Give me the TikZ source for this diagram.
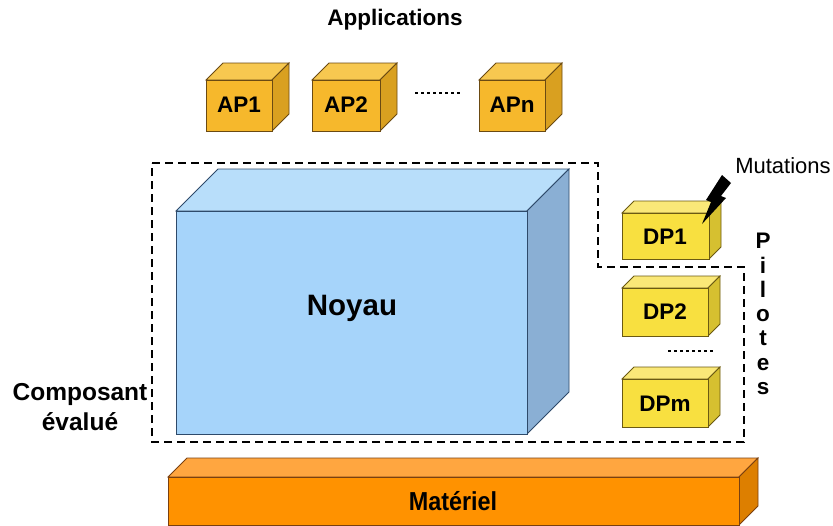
\documentclass[tikz,border=0pt]{standalone}
\usepackage{fontspec}
\setmainfont{Liberation Sans}
\usepackage{tikz}
\usetikzlibrary{calc}
\definecolor{aptop}{HTML}{F7C850}
\definecolor{apfront}{HTML}{F6B82C}
\definecolor{apside}{HTML}{D9A020}
\definecolor{apline}{HTML}{6B4A12}
\definecolor{dptop}{HTML}{FAE878}
\definecolor{dpfront}{HTML}{F8E040}
\definecolor{dpside}{HTML}{D6C030}
\definecolor{dpline}{HTML}{6B5A12}
\definecolor{nytop}{HTML}{B8DEFA}
\definecolor{nyfront}{HTML}{A6D4FA}
\definecolor{nyside}{HTML}{8AAFD4}
\definecolor{nyline}{HTML}{2E4A6A}
\definecolor{mttop}{HTML}{FFA640}
\definecolor{mtfront}{HTML}{FF9200}
\definecolor{mtside}{HTML}{DD7F00}
\definecolor{mtline}{HTML}{7A4010}
% #1,#2 front top-left, #3,#4 front bottom-right, #5 depth, #6 colour prefix
\newcommand{\cube}[6]{\filldraw[draw=#6line, fill=#6top] (#1,#2) -- (#1+#5,#2-#5) -- (#3+#5,#2-#5) -- (#3,#2) -- cycle; \filldraw[draw=#6line, fill=#6side] (#3,#2) -- (#3+#5,#2-#5) -- (#3+#5,#4-#5) -- (#3,#4) -- cycle; \filldraw[draw=#6line, fill=#6front] (#1,#2) rectangle (#3,#4);}
\newcommand{\bigtxt}[1]{\fontsize{#1}{#1}\selectfont\bfseries}
\tikzset{
  boxtext/.style={inner sep=0pt, font=\bigtxt{22.5}},
  bordure/.style={line width=2pt, dash pattern=on 8pt off 5pt},
  points/.style={line width=2.5pt, dash pattern=on 2.5pt off 3.5pt}
}

\begin{document}
\begin{tikzpicture}[x=1pt,y=-1pt, line width=0.8pt]
        \useasboundingbox (0,0) rectangle (833,525);
        % applications
        \node[boxtext, font=\bigtxt{22.5}] (appli) at (395,20) {Applications};
        \cube{206}{80}{272}{131}{17}{ap}
        \cube{312}{80}{380}{131}{17}{ap}
        \cube{479}{80}{545}{131}{17}{ap}
        \node[boxtext] (ap1) at (239,105) {AP1};
        \node[boxtext] (ap2) at (346,105) {AP2};
        \node[boxtext] (apn) at (512,105) {APn};
        \draw[points] (415,93) -- (460,93);

        % composant evalue
        \draw[bordure] (152,163) -- (598,163) -- (598,267) -- (744,267) -- (744,442) -- (152,442) -- cycle;
        \cube{176}{211}{527}{434}{42}{ny}
        \node[boxtext, font=\bigtxt{29.5}] (noyau) at (352,308) {Noyau};
        \node[inner sep=0pt, align=center, font={\fontsize{24.5}{30}\selectfont\bfseries}] (compo) at (80,407) {Composant\\évalué};

        % pilotes
        \cube{622}{213}{709}{259}{12}{dp}
        \cube{622}{288}{708}{336}{12}{dp}
        \cube{622}{379}{708}{427}{12}{dp}
        \node[boxtext] (dp1) at (665,237) {DP1};
        \node[boxtext] (dp2) at (665,312) {DP2};
        \node[boxtext] (dpm) at (665,404) {DPm};
        \draw[points] (668,351) -- (713,351);
        \node[inner sep=0pt, align=center, font={\fontsize{22.5}{24.3}\selectfont\bfseries}] (pilotes) at (763,314) {P\\i\\l\\o\\t\\e\\s};

        % mutations
        \node[inner sep=0pt, font=\fontsize{22}{22}\selectfont] (mutations) at (783,166) {Mutations};
        \fill[black] (722,175) -- (731,183) -- (721,196) -- (726,198) -- (702,224) -- (711,202) -- (706,200) -- cycle;

        % materiel
        \cube{168}{477}{739}{525}{19}{mt}
        \node[boxtext, font=\bigtxt{26}, xscale=0.9] (materiel) at (453,501) {Matériel};
    \end{tikzpicture}
\end{document}
